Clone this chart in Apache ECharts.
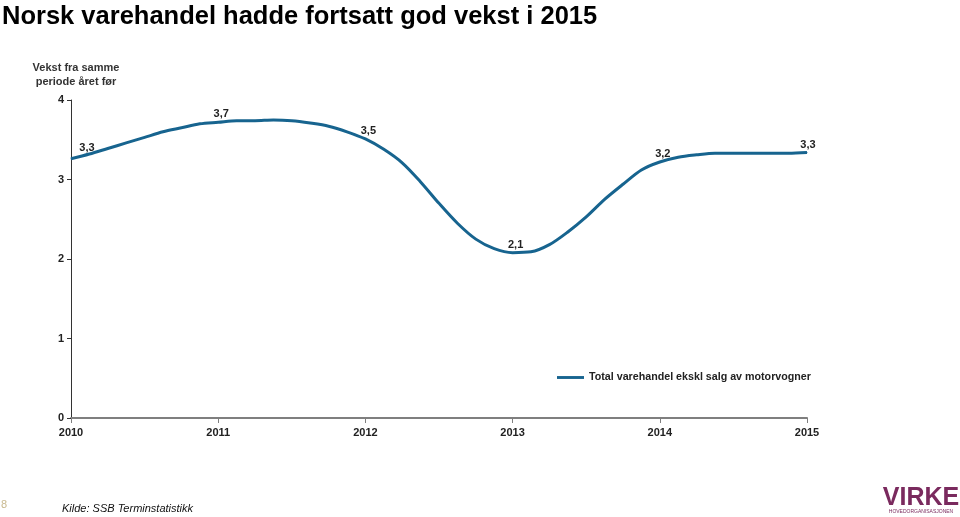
<!DOCTYPE html>
<html>
<head>
<meta charset="utf-8">
<script src="https://cdn.jsdelivr.net/npm/echarts@6/dist/echarts.min.js"></script>
<style>
html,body{margin:0;padding:0;background:#fff;}
#chart{width:960px;height:517px;}
</style>
</head>
<body>
<div id="chart"></div>
<script>
// Data
var years = [2010.000,2010.125,2010.25,2010.375,2010.5,2010.625,2010.75,2010.875,
  2011.0,2011.125,2011.25,2011.375,2011.5,2011.625,2011.75,2011.875,
  2012.0,2012.125,2012.25,2012.375,2012.5,2012.625,2012.75,2012.875,
  2013.0,2013.125,2013.25,2013.375,2013.5,2013.625,2013.75,2013.875,
  2014.0,2014.125,2014.25,2014.375,2014.5,2014.625,2014.75,2014.875,2015.0];
var values = [3.26,3.32,3.39,3.46,3.53,3.60,3.65,3.70,
  3.72,3.74,3.74,3.75,3.74,3.71,3.67,3.60,
  3.51,3.38,3.21,2.97,2.70,2.45,2.25,2.13,
  2.08,2.09,2.18,2.34,2.53,2.75,2.94,3.12,
  3.22,3.28,3.31,3.33,3.33,3.33,3.33,3.33,3.34];
var labelYears = [2010, 2011, 2012, 2013, 2014, 2015];
var yTicks = [0, 1, 2, 3, 4];
var seriesName = 'Total varehandel ekskl salg av motorvogner';

var FONT = '"Liberation Sans", Arial, sans-serif';
var LINE = '#17648f';

var seriesData = years.map(function (y, i) {
  var item = { value: [y, values[i]] };
  if (labelYears.indexOf(y) >= 0) {
    item.label = { show: true, offset: [3, 0] };
    if (y === labelYears[0]) item.label.offset = [16, -3];
    if (y === labelYears[labelYears.length - 1]) item.label.offset = [1, 0];
  }
  return item;
});

var chart = echarts.init(document.getElementById('chart'));
chart.setOption({
  animation: false,
  backgroundColor: '#fff',
  textStyle: { fontFamily: FONT },
  title: {
    text: 'Norsk varehandel hadde fortsatt god vekst i 2015',
    left: 2, top: 4, padding: 0,
    textStyle: { fontFamily: FONT, fontSize: 25.5, fontWeight: 'bold', color: '#000' }
  },
  grid: { left: 71, right: 153, top: 100, bottom: 99, containLabel: false },
  legend: {
    left: 552, top: 367,
    itemWidth: 27, itemHeight: 12, itemGap: 4,
    icon: 'path://M0,5 L28,5 L28,8 L0,8 Z',
    itemStyle: { color: LINE, opacity: 1 },
    textStyle: { fontFamily: FONT, fontSize: 10.7, fontWeight: 'bold', color: '#222' },
    data: [seriesName]
  },
  xAxis: {
    type: 'value', min: 2010, max: 2015, interval: 1,
    axisLine: { lineStyle: { color: '#7f7f7f', width: 2 } },
    axisTick: { show: true, length: 5, lineStyle: { color: '#7f7f7f' } },
    axisLabel: { margin: 9, fontFamily: FONT, fontSize: 11, fontWeight: 'bold', color: '#222',
      formatter: function (v) { return String(v); } },
    splitLine: { show: false }
  },
  yAxis: {
    type: 'value', min: yTicks[0], max: yTicks[yTicks.length - 1], interval: 1,
    axisLine: { show: true, lineStyle: { color: '#333', width: 1 } },
    axisTick: { show: true, length: 4, lineStyle: { color: '#333' } },
    axisLabel: { margin: 7, fontFamily: FONT, fontSize: 11, fontWeight: 'bold', color: '#222' },
    splitLine: { show: false }
  },
  series: [{
    name: seriesName,
    type: 'line',
    data: seriesData,
    smooth: 0.3,
    showSymbol: true,
    showAllSymbol: true,
    symbol: 'circle',
    symbolSize: 1,
    lineStyle: { color: LINE, width: 3 },
    itemStyle: { color: LINE },
    label: {
      show: false, position: 'top', distance: 2,
      fontFamily: FONT, fontSize: 11, fontWeight: 'bold', color: '#222',
      formatter: function (p) { return p.value[1].toFixed(1).replace('.', ','); }
    }
  }],
  graphic: [
    { type: 'text', x: 76, y: 61, style: {
        text: 'Vekst fra samme\nperiode året før', align: 'center', verticalAlign: 'top',
        font: 'bold 11px ' + FONT, fill: '#333', lineHeight: 14 } },
    { type: 'text', x: 1, y: 499, style: {
        text: '8', font: '11px ' + FONT, fill: '#c9b98f' } },
    { type: 'text', x: 62, y: 503, style: {
        text: 'Kilde: SSB Terminstatistikk', font: 'italic 11px ' + FONT, fill: '#111' } },
    { type: 'text', x: 921, y: 486, style: {
        text: 'VIRKE', align: 'center', font: 'bold 25px ' + FONT, fill: '#7a2a5e' } },
    { type: 'text', x: 921, y: 509, style: {
        text: 'HOVEDORGANISASJONEN', align: 'center', font: '5px ' + FONT, fill: '#7a2a5e' } }
  ]
});
</script>
</body>
</html>
